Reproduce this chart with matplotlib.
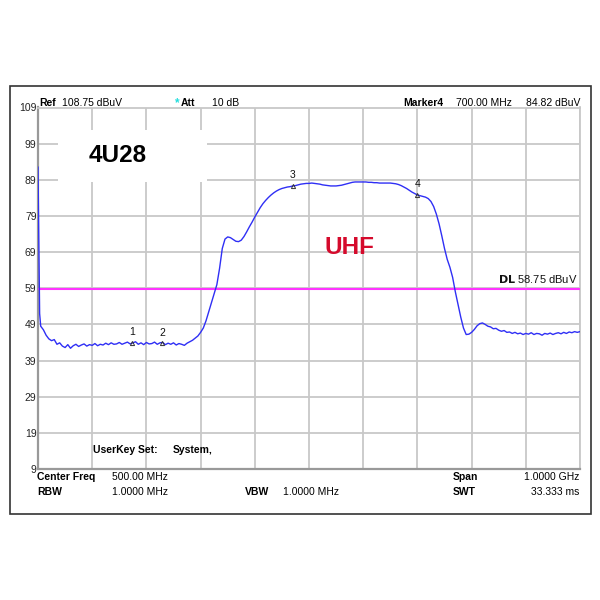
import matplotlib
matplotlib.use("Agg")
import matplotlib.pyplot as plt
import matplotlib.patches as patches
import numpy as np

# trace (MHz, dBuV)
freq = [0, 1.5, 3, 5, 10, 15, 20, 25, 30, 35, 40, 45, 50, 55, 60, 65, 70, 75, 80, 85,
        90, 95, 100, 105, 110, 115, 120, 125, 130, 135, 140, 145, 150, 155, 160, 165,
        170, 175, 180, 185, 190, 195, 200, 205, 210, 215, 220, 225, 230, 235, 240, 245,
        250, 255, 260, 265, 270, 275, 280, 285, 290, 295, 300, 305, 310, 315, 320, 325,
        330, 335, 340, 345, 350, 355, 360, 365, 370, 375, 380, 385, 390, 395, 400, 405,
        410, 415, 420, 425, 430, 435, 440, 445, 450, 455, 460, 465, 470, 475, 480, 485,
        490, 495, 500, 505, 510, 515, 520, 525, 530, 535, 540, 545, 550, 555, 560, 565,
        570, 575, 580, 585, 590, 595, 600, 605, 610, 615, 620, 625, 630, 635, 640, 645,
        650, 655, 660, 665, 670, 675, 680, 685, 690, 695, 700, 705, 710, 715, 720, 725,
        730, 735, 740, 745, 750, 755, 760, 765, 770, 775, 780, 785, 790, 795, 800, 805,
        810, 815, 820, 825, 830, 835, 840, 845, 850, 855, 860, 865, 870, 875, 880, 885,
        890, 895, 900, 905, 910, 915, 920, 925, 930, 935, 940, 945, 950, 955, 960, 965,
        970, 975, 980, 985, 990, 995, 1000]
level = [92.5, 73.0, 52.0, 48.5, 47.5, 46.0, 45.0, 44.5, 44.8, 43.5, 43.9, 43.0, 42.6, 43.4,
         42.4, 43.1, 43.5, 42.9, 43.3, 43.6, 43.0, 43.4, 43.2, 43.7, 43.1, 43.5, 43.3, 43.8,
         43.4, 43.9, 43.5, 43.6, 44.0, 43.5, 43.8, 44.1, 43.6, 43.9, 44.2, 43.5, 43.9, 43.4,
         44.0, 43.6, 43.7, 44.1, 43.5, 43.9, 44.0, 43.4, 43.8, 43.5, 43.9, 43.3, 43.7, 43.5,
         43.2, 43.8, 44.2, 44.6, 45.2, 45.8, 46.8, 48.0, 50.0, 52.5, 55.0, 57.5, 60.0, 64.5,
         70.0, 72.6, 73.2, 73.0, 72.5, 72.0, 71.9, 72.3, 73.3, 74.6, 76.0, 77.3, 78.7, 80.0,
         81.3, 82.4, 83.3, 84.1, 84.8, 85.4, 85.9, 86.3, 86.6, 86.8, 87.0, 87.1, 87.3, 87.4,
         87.6, 87.8, 87.9, 88.0, 88.0, 88.1, 88.0, 87.9, 87.8, 87.6, 87.5, 87.4, 87.3, 87.3,
         87.3, 87.4, 87.5, 87.7, 87.9, 88.1, 88.3, 88.4, 88.4, 88.4, 88.4, 88.4, 88.3, 88.3,
         88.2, 88.2, 88.1, 88.1, 88.1, 88.1, 88.1, 88.0, 87.9, 87.7, 87.4, 87.0, 86.6, 86.1,
         85.6, 85.2, 84.8, 84.6, 84.4, 84.2, 83.8, 83.0, 81.6, 79.5, 76.8, 73.5, 70.0, 67.0,
         64.8, 62.0, 58.0, 54.5, 51.0, 48.0, 46.2, 46.3, 46.8, 47.6, 48.6, 49.2, 49.4, 49.0,
         48.5, 48.3, 47.8, 47.9, 47.4, 47.1, 47.3, 46.8, 46.9, 46.5, 46.8, 46.4, 46.6, 46.2,
         46.5, 46.3, 46.7, 46.2, 46.5, 46.4, 46.0, 46.5, 46.3, 46.6, 46.2, 46.5, 46.7, 46.4,
         46.8, 46.5, 46.9, 46.7, 47.0, 46.8, 47.0]

marker_ids = ["1", "2", "3", "4"]
marker_freq = [173, 229, 470, 700]
marker_level = [43.9, 43.8, 87.3, 84.82]

dl_level = 58.75
y_ticks = [109, 99, 89, 79, 69, 59, 49, 39, 29, 19, 9]

W = 600.0
def fx(px):
    return px / W
def fy(py):
    return 1 - py / W

plt.rcParams['font.family'] = ['Liberation Sans', 'DejaVu Sans']
fig = plt.figure(figsize=(6, 6), dpi=100)
fig.patch.set_facecolor('white')

# outer window frame
fig.add_artist(patches.Rectangle((fx(10), fy(514)), (591 - 10) / W, (514 - 86) / W,
                                 transform=fig.transFigure, fill=False,
                                 edgecolor='#333333', linewidth=1.2))

ax = fig.add_axes([fx(38), fy(469), (580 - 38) / W, (469 - 107.5) / W])
ax.set_xlim(0, 1000)
ax.set_ylim(9, 109)
ax.set_xticks(np.arange(0, 1001, 100))
ax.set_yticks(y_ticks)
ax.set_yticklabels([str(t) for t in y_ticks], fontsize=7.5, color='#222222')
ax.tick_params(axis='y', length=0, pad=1)
ax.tick_params(axis='x', length=0, labelbottom=False)
ax.grid(True, color='#c8c8c8', linewidth=1.3)
for s in ['top', 'right']:
    ax.spines[s].set_color('#c8c8c8')
    ax.spines[s].set_linewidth(1.3)
for s in ['left', 'bottom']:
    ax.spines[s].set_color('#999999')
    ax.spines[s].set_linewidth(1.6)

ax.axhline(dl_level, color='#ff33ff', linewidth=1.5, zorder=3)
ax.plot(freq, level, color='#2f2ff5', linewidth=1.0, zorder=4)

for mid, mf, ml in zip(marker_ids, marker_freq, marker_level):
    ax.plot(mf, ml, marker='^', markersize=3, markerfacecolor='none',
            markeredgecolor='#333333', markeredgewidth=0.7, zorder=5)
    ax.annotate(mid, (mf, ml), xytext=(0, 4), textcoords='offset points',
                ha='center', va='bottom', fontsize=7.5, color='#111111')

ax.text(995, dl_level + 1.2, r'$\bf{DL}$ 58.75 dBuV', ha='right', va='bottom',
        fontsize=8, color='#111111')

# white label box with channel name
fig.add_artist(patches.Rectangle((fx(58), fy(182)), (207 - 58) / W, (182 - 130) / W,
                                 transform=fig.transFigure, facecolor='white',
                                 edgecolor='none', zorder=5))
fig.text(fx(117.5), fy(155.5), '4U28', ha='center', va='center', fontsize=17.5,
         fontweight='bold', color='black', zorder=6)
ax.text(574, 70.3, 'UHF', ha='center', va='center', fontsize=17.5,
        fontweight='bold', color='#d50a2c', zorder=6)

# header line
fs = 7.5
hy = fy(103)
fig.text(fx(39), hy, 'Ref', fontsize=fs, fontweight='bold', va='center')
fig.text(fx(62), hy, '108.75 dBuV', fontsize=fs, va='center')
fig.text(fx(175), hy, '*', fontsize=fs + 1, fontweight='bold', color='#22dddd', va='center')
fig.text(fx(181), hy, 'Att', fontsize=fs, fontweight='bold', va='center')
fig.text(fx(212), hy, '10 dB', fontsize=fs, va='center')
fig.text(fx(403), hy, 'Marker4', fontsize=fs, fontweight='bold', va='center')
fig.text(fx(456), hy, '700.00 MHz', fontsize=fs, va='center')
fig.text(fx(580), hy, '84.82 dBuV', fontsize=fs, va='center', ha='right')

# footer lines
r1 = fy(477)
r2 = fy(492)
fig.text(fx(37), r1, 'Center Freq', fontsize=fs, fontweight='bold', va='center')
fig.text(fx(112), r1, '500.00 MHz', fontsize=fs, va='center')
fig.text(fx(453), r1, 'Span', fontsize=fs, fontweight='bold', va='center')
fig.text(fx(579), r1, '1.0000 GHz', fontsize=fs, va='center', ha='right')
fig.text(fx(37), r2, 'RBW', fontsize=fs, fontweight='bold', va='center')
fig.text(fx(112), r2, '1.0000 MHz', fontsize=fs, va='center')
fig.text(fx(245), r2, 'VBW', fontsize=fs, fontweight='bold', va='center')
fig.text(fx(283), r2, '1.0000 MHz', fontsize=fs, va='center')
fig.text(fx(453), r2, 'SWT', fontsize=fs, fontweight='bold', va='center')
fig.text(fx(579), r2, '33.333 ms', fontsize=fs, va='center', ha='right')

fig.text(fx(93), fy(450), 'UserKey Set:', fontsize=fs, fontweight='bold', va='center')
fig.text(fx(173), fy(450), 'System,', fontsize=fs, fontweight='bold', va='center')

fig.savefig('out.png', dpi=100, facecolor='white')
